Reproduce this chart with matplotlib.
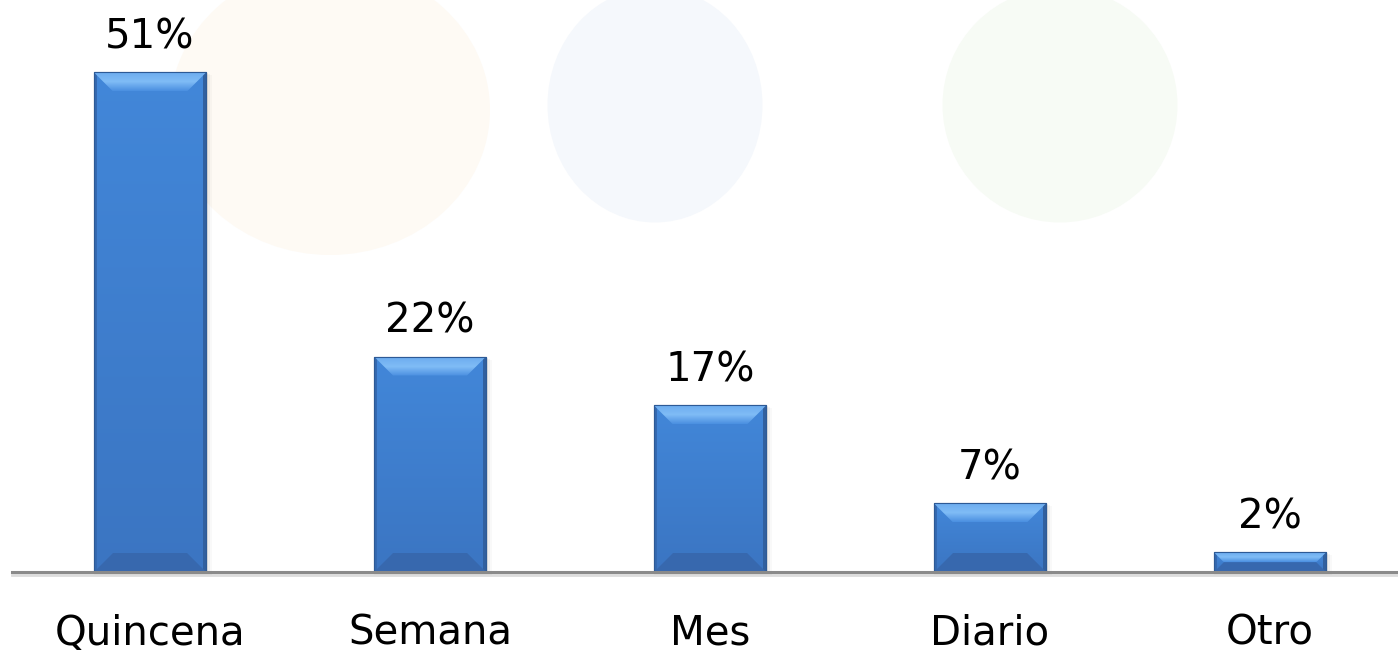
import matplotlib
matplotlib.use("Agg")
import matplotlib.pyplot as plt
import numpy as np
from matplotlib.patches import Polygon, Ellipse, Rectangle
from matplotlib.colors import LinearSegmentedColormap

categories = ["Quincena", "Semana", "Mes", "Diario", "Otro"]
values = [51, 22, 17, 7, 2]
labels = ["51%", "22%", "17%", "7%", "2%"]

W, H, DPI = 1398, 651, 100
fig = plt.figure(figsize=(W / DPI, H / DPI), dpi=DPI)
fig.patch.set_facecolor("white")

# faint watermark shapes in background
bg = fig.add_axes([0, 0, 1, 1], zorder=0)
bg.set_xlim(0, W); bg.set_ylim(H, 0); bg.axis("off")
bg.add_patch(Ellipse((330, 110), 320, 290, color="#fefaf4", lw=0))
bg.add_patch(Ellipse((655, 105), 215, 235, color="#f5f8fc", lw=0))
bg.add_patch(Ellipse((1060, 105), 235, 235, color="#f7fbf5", lw=0))

ax_left, ax_bottom = 12 / W, (H - 572) / H
ax = fig.add_axes([ax_left, ax_bottom, 1 - ax_left, 572 / H], zorder=1)
ax.patch.set_alpha(0)
x = np.arange(len(categories))
ax.set_xlim(-0.493, 4.457)
ax.set_ylim(0, 58.4)

bw = 0.40
bars = ax.bar(x, values, width=bw, color="#3f82d5", edgecolor="#2d5a96", linewidth=0.8, zorder=3)

px_x = (W - 12) / (4.457 + 0.493)
px_y = 572 / 58.4

grad = np.linspace(0, 1, 256).reshape(-1, 1)
body_cmap = LinearSegmentedColormap.from_list("b", ["#3b75c2", "#4287d9"])
top_cmap = LinearSegmentedColormap.from_list("t", ["#4a8fe0", "#80bcf6", "#6cacef"])

for b in bars:
    x0, w, h = b.get_x(), b.get_width(), b.get_height()
    x1 = x0 + w
    # soft shadow
    for k, a in enumerate([0.06, 0.04, 0.025]):
        off = (k + 1) * 2
        ax.add_patch(Rectangle((x0, -off / px_y * 0.5), w + off / px_x, h,
                               color="black", alpha=a, lw=0, zorder=2, clip_on=False))
    # body gradient
    im = ax.imshow(grad, extent=[x0, x1, 0, h], origin="lower", cmap=body_cmap,
                   aspect="auto", zorder=3.1)
    im.set_clip_path(b)
    hpx = h * px_y
    bv = min(19, hpx / 2)
    dx = bv / px_x
    dy = bv / px_y
    ex = 3 / px_x
    # thin darker side edges
    ax.add_patch(Rectangle((x0, 0), ex, h, color="#3569b0", lw=0, zorder=3.15))
    ax.add_patch(Rectangle((x1 - ex, 0), ex, h, color="#31609f", lw=0, zorder=3.15))
    # top bevel gradient
    top = Polygon([[x0, h], [x1, h], [x1 - dx, h - dy], [x0 + dx, h - dy]],
                  closed=True, fc="none", lw=0, zorder=3.2)
    ax.add_patch(top)
    imt = ax.imshow(grad, extent=[x0, x1, h - dy, h], origin="lower", cmap=top_cmap,
                    aspect="auto", zorder=3.2)
    imt.set_clip_path(top)
    # bottom bevel (dark)
    ax.add_patch(Polygon([[x0, 0], [x1, 0], [x1 - dx, dy], [x0 + dx, dy]],
                         closed=True, color="#3768ae", lw=0, zorder=3.2))
    ax.add_patch(Rectangle((x0, 0), w, h, fill=False, ec="#2d5a96", lw=0.8, zorder=3.3))

for xi, v, lab in zip(x, values, labels):
    ax.text(xi, v + 1.5, lab, ha="center", va="bottom", fontsize=29,
            family="DejaVu Sans", color="black", zorder=4)

# axis line with subtle shadow
ax.axhline(0, color="#8a8a8a", lw=2.2, zorder=3.5, clip_on=False)
ax.axhline(-0.3, color="#dcdcdc", lw=2.0, zorder=1, clip_on=False)

for s in ax.spines.values():
    s.set_visible(False)
ax.set_yticks([])
ax.set_xticks(x)
ax.set_xticklabels(categories, fontsize=29, family="DejaVu Sans")
ax.tick_params(axis="x", length=0, pad=30)

fig.savefig("out.png", dpi=DPI)
